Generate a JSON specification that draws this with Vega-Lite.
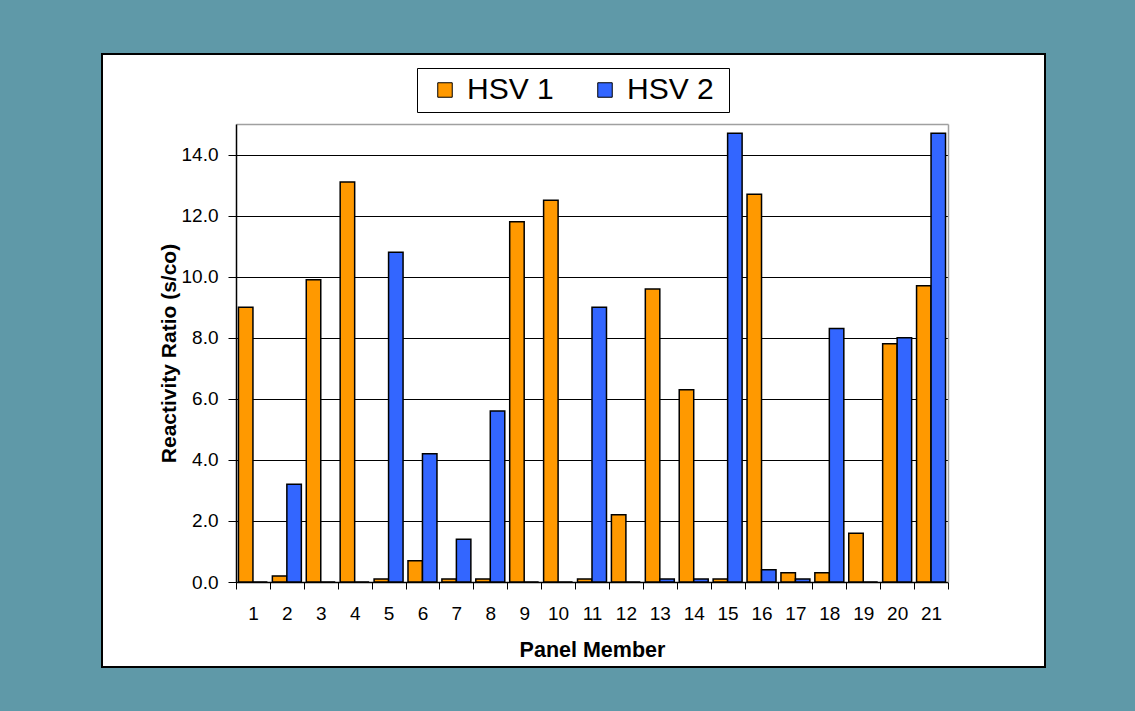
{
  "$schema": "https://vega.github.io/schema/vega-lite/v6.json",
  "width": 943,
  "height": 613,
  "autosize": {"type": "none"},
  "padding": {"left": 102, "top": 54, "right": 90, "bottom": 44},
  "background": "#5F99A8",
  "config": {
    "view": {"fill": "white", "stroke": "black", "strokeWidth": 2},
    "font": "Liberation Sans"
  },
  "data": {
    "values": [
      {"member": 1, "series": "HSV 1", "value": 9.0},
      {"member": 1, "series": "HSV 2", "value": 0},
      {"member": 2, "series": "HSV 1", "value": 0.2},
      {"member": 2, "series": "HSV 2", "value": 3.2},
      {"member": 3, "series": "HSV 1", "value": 9.9},
      {"member": 3, "series": "HSV 2", "value": 0},
      {"member": 4, "series": "HSV 1", "value": 13.1},
      {"member": 4, "series": "HSV 2", "value": 0},
      {"member": 5, "series": "HSV 1", "value": 0.1},
      {"member": 5, "series": "HSV 2", "value": 10.8},
      {"member": 6, "series": "HSV 1", "value": 0.7},
      {"member": 6, "series": "HSV 2", "value": 4.2},
      {"member": 7, "series": "HSV 1", "value": 0.1},
      {"member": 7, "series": "HSV 2", "value": 1.4},
      {"member": 8, "series": "HSV 1", "value": 0.1},
      {"member": 8, "series": "HSV 2", "value": 5.6},
      {"member": 9, "series": "HSV 1", "value": 11.8},
      {"member": 9, "series": "HSV 2", "value": 0},
      {"member": 10, "series": "HSV 1", "value": 12.5},
      {"member": 10, "series": "HSV 2", "value": 0},
      {"member": 11, "series": "HSV 1", "value": 0.1},
      {"member": 11, "series": "HSV 2", "value": 9.0},
      {"member": 12, "series": "HSV 1", "value": 2.2},
      {"member": 12, "series": "HSV 2", "value": 0},
      {"member": 13, "series": "HSV 1", "value": 9.6},
      {"member": 13, "series": "HSV 2", "value": 0.1},
      {"member": 14, "series": "HSV 1", "value": 6.3},
      {"member": 14, "series": "HSV 2", "value": 0.1},
      {"member": 15, "series": "HSV 1", "value": 0.1},
      {"member": 15, "series": "HSV 2", "value": 14.7},
      {"member": 16, "series": "HSV 1", "value": 12.7},
      {"member": 16, "series": "HSV 2", "value": 0.4},
      {"member": 17, "series": "HSV 1", "value": 0.3},
      {"member": 17, "series": "HSV 2", "value": 0.1},
      {"member": 18, "series": "HSV 1", "value": 0.3},
      {"member": 18, "series": "HSV 2", "value": 8.3},
      {"member": 19, "series": "HSV 1", "value": 1.6},
      {"member": 19, "series": "HSV 2", "value": 0},
      {"member": 20, "series": "HSV 1", "value": 7.8},
      {"member": 20, "series": "HSV 2", "value": 8.0},
      {"member": 21, "series": "HSV 1", "value": 9.7},
      {"member": 21, "series": "HSV 2", "value": 14.7}
    ]
  },
  "layer": [
    {
      "mark": {"type": "bar", "stroke": "black", "strokeWidth": 1.5},
      "encoding": {
        "x": {
          "field": "member",
          "type": "ordinal",
          "scale": {"range": [134, 846], "paddingInner": 0, "paddingOuter": 0},
          "axis": {
            "orient": "bottom",
            "offset": -85,
            "labelAngle": 0,
            "tickBand": "extent",
            "tickSize": 7,
            "tickColor": "black",
            "domainColor": "black",
            "domainWidth": 1.5,
            "labelFontSize": 19,
            "labelColor": "black",
            "labelPadding": 15,
            "title": "Panel Member",
            "titleFontSize": 21.5,
            "titleFontWeight": "bold",
            "titleColor": "black",
            "titlePadding": 16,
            "grid": false
          }
        },
        "xOffset": {
          "field": "series",
          "scale": {"paddingInner": 0, "paddingOuter": 0.17}
        },
        "y": {
          "field": "value",
          "type": "quantitative",
          "scale": {"domain": [0, 15], "range": [528, 70], "nice": false, "zero": true},
          "axis": {
            "orient": "left",
            "offset": -134,
            "values": [0, 2, 4, 6, 8, 10, 12, 14],
            "format": ".1f",
            "tickSize": 8,
            "tickColor": "black",
            "domainColor": "black",
            "domainWidth": 1.5,
            "labelFontSize": 19,
            "labelColor": "black",
            "labelPadding": 10,
            "title": "Reactivity Ratio (s/co)",
            "titleFontSize": 21,
            "titleFontWeight": "bold",
            "titleColor": "black",
            "titlePadding": 2,
            "grid": true,
            "gridColor": "black",
            "gridWidth": 1,
            "gridOpacity": 1
          }
        },
        "color": {
          "field": "series",
          "type": "nominal",
          "scale": {"domain": ["HSV 1", "HSV 2"], "range": ["#FF9900", "#3366FF"]},
          "legend": {
            "orient": "none",
            "legendX": 315,
            "legendY": 14,
            "direction": "horizontal",
            "title": " ",
            "titleOrient": "right",
            "titleFontSize": 10,
            "titlePadding": 8,
            "symbolType": "square",
            "symbolSize": 210,
            "symbolStrokeColor": "black",
            "symbolStrokeWidth": 1,
            "symbolOpacity": 1,
            "symbolOffset": 6,
            "labelFontSize": 30,
            "labelColor": "black",
            "labelOffset": 7,
            "columnPadding": 30,
            "padding": 7,
            "strokeColor": "black",
            "fillColor": "white"
          }
        }
      }
    },
    {
      "mark": {"type": "point", "opacity": 0},
      "encoding": {
        "x": {
          "field": "member",
          "type": "ordinal",
          "axis": {
            "orient": "top",
            "offset": -70,
            "domainColor": "#A0A0A0",
            "domainWidth": 1.5,
            "ticks": false,
            "labels": false,
            "title": null,
            "grid": false
          }
        },
        "y": {
          "field": "value",
          "type": "quantitative",
          "axis": {
            "orient": "right",
            "offset": -97,
            "domainColor": "#A0A0A0",
            "domainWidth": 1.5,
            "ticks": false,
            "labels": false,
            "title": null,
            "grid": false
          }
        }
      }
    }
  ],
  "resolve": {"axis": {"x": "independent", "y": "independent"}}
}
